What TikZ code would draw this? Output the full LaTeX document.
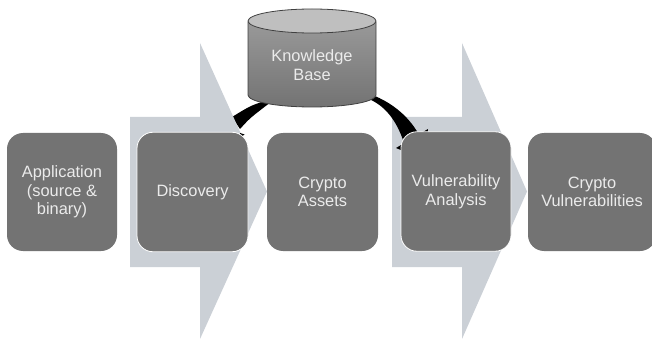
\documentclass[tikz,border=0pt]{standalone}
\usepackage{fontspec}
\setmainfont{Liberation Sans}
\definecolor{boxgrey}{HTML}{737373}
\definecolor{arrowgrey}{HTML}{CBD0D6}
\tikzset{
  x=1pt,y=-1pt,
  labelfont/.style={font=\fontsize{16.4}{18.6}\selectfont,text=white!92!black,align=center},
  box/.style={fill=boxgrey,rounded corners=16pt,inner sep=0pt,labelfont,minimum height=118pt},
  whitebox/.style={box,draw=white,line width=0.8pt,minimum height=119.5pt},
  bigarrow/.style={fill=arrowgrey},
  link/.style={fill=black},
}
\begin{document}
\begin{tikzpicture}
\useasboundingbox (0,0) rectangle (652,339);
% left link, below the first arrow
\coordinate (lk1) at (263,101.5);
\coordinate (lk2) at (269,103.5);
\coordinate (lk3) at (232,117);
\coordinate (lk4) at (240,129);
\fill[link] (lk1) .. controls (250,106) .. (lk3) -- (lk4) .. controls (250,118) .. (lk2) -- cycle;
% big arrows
\fill[bigarrow] (130,117) -- (200,117) -- (200,43) -- (267,191.5) -- (200,339) -- (200,267) -- (130,267) -- cycle;
\fill[bigarrow] (392,117) -- (462,117) -- (462,43) -- (527,191.5) -- (462,339) -- (462,267) -- (392,267) -- cycle;
% right link
\coordinate (rk1) at (369,99);
\coordinate (rk2) at (376,96.5);
\coordinate (rk3) at (418,133);
\coordinate (rk4) at (403,140);
\fill[link] (rk1) .. controls (385,106) and (396,120) .. (rk4) -- (rk3) .. controls (408,116) and (393,104) .. (rk2) -- cycle;
\coordinate (ra1) at (396,148);
\coordinate (ra2) at (428,129);
\coordinate (ra3) at (425,160);
\fill[link] (ra1) -- (ra2) -- (ra3) -- cycle;
\coordinate (la1) at (244.5,134.5);
\coordinate (la2) at (241,137);
\coordinate (la3) at (240,133);
\fill[link] (la1) -- (la2) -- (la3) -- cycle;
% boxes
\node[box,minimum width=110pt] (app) at (62,192) {Application\\(source \&\\binary)};
\node[whitebox,minimum width=111pt] (disc) at (192.5,192) {Discovery};
\node[box,minimum width=111pt] (assets) at (322.5,192) {Crypto\\Assets};
\node[whitebox,minimum width=110pt] (vuln) at (456,191.5) {Vulnerability\\Analysis};
\node[box,minimum width=128pt] (cvuln) at (592,192) {Crypto\\Vulnerabilities};
% knowledge base
\shade[top color=black!40,bottom color=black!55,draw=black!75,line width=0.8pt]
  (248,22) -- (248,95) arc[start angle=180,end angle=360,x radius=64,y radius=-12] -- (376,22) -- cycle;
\fill[black!25,draw=black!75,line width=0.8pt] (312,21) ellipse[x radius=64,y radius=12];
\node[inner sep=0pt,labelfont] (kb) at (312,65) {Knowledge\\Base};
\end{tikzpicture}
\end{document}
